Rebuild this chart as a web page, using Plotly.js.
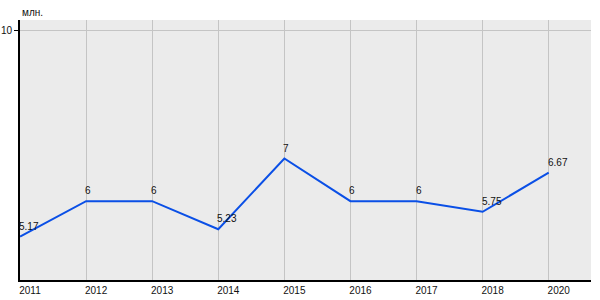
<!DOCTYPE html>
<html><head><meta charset="utf-8">
<script src="https://cdn.plot.ly/plotly-3.0.1.min.js"></script>
<style>html,body{margin:0;padding:0;background:#fff}#c{width:600px;height:300px}</style>
</head><body><div id="c"></div>
<script>
const years = ['2011','2012','2013','2014','2015','2016','2017','2018','2020'];
const values = [5.17, 6, 6, 5.34, 7, 6, 6, 5.75, 6.67];
const labels = ['5.17','6','6','5.23','7','6','6','5.75','6.67'];
const yTicks = [10];
const unitLabel = 'млн.';

const ann = years.map((yr, i) => ({
  x: i, y: values[i], xref: 'x', yref: 'y', text: labels[i], showarrow: false,
  xanchor: 'left', yanchor: 'bottom', xshift: -3, yshift: 3,
  font: {family: 'Liberation Sans, Arial, sans-serif', size: 10, color: '#111'}
}));
ann.push({text: unitLabel, xref: 'paper', yref: 'paper', x: 0, y: 1, yshift: 8, xanchor: 'left', yanchor: 'middle',
  showarrow: false, font: {size: 10, color: '#111'}});

Plotly.newPlot('c', [{
  x: years, y: values, type: 'scatter', mode: 'lines',
  line: {color: '#0a4fe6', width: 2},
  hoverinfo: 'none'
}], {
  width: 600, height: 300,
  margin: {l: 20, r: 9, t: 20, b: 20},
  paper_bgcolor: '#fff', plot_bgcolor: '#ebebeb',
  showlegend: false,
  font: {family: 'Liberation Sans, Arial, sans-serif', size: 10, color: '#111'},
  xaxis: {type: 'category', range: [0, 8.64], showgrid: true, gridcolor: '#c4c4c4', gridwidth: 1,
    showline: true, linecolor: '#000', linewidth: 2, zeroline: false, ticks: '',
    ticklabelshift: 10, ticklabelstandoff: 0, fixedrange: true},
  yaxis: {range: [4.15, 10.25], tickvals: yTicks, ticktext: yTicks.map(String), showgrid: true, gridcolor: '#c4c4c4',
    showline: true, linecolor: '#000', linewidth: 2, zeroline: false, ticks: 'outside', ticklen: 4, tickcolor: '#000',
    ticklabelstandoff: 0, fixedrange: true},
  annotations: ann
}, {displayModeBar: false, staticPlot: true});
</script></body></html>
